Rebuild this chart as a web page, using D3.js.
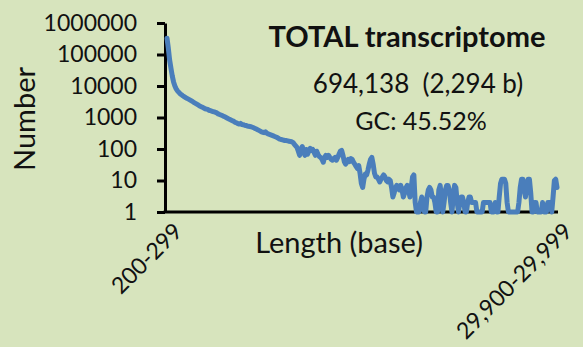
<!DOCTYPE html>
<html>
<head>
<meta charset="utf-8">
<script src="https://cdn.jsdelivr.net/npm/d3@7"></script>
<style>
  body { margin: 0; background: #d7e4bd; }
  svg { display: block; font-family: Lato, "Open Sans", sans-serif; }
</style>
</head>
<body>
<svg id="chart"></svg>
<script>
const ctx = {
  width: 583,
  height: 347,
  plotLeft: 165,
  plotRight: 557,
  plotTop: 23,
  plotBottom: 212,
  bg: "#d7e4bd",
  lineColor: "#4a7ebb"
};

// length bins of 100 bases, 200-299 ... 29,900-29,999
const binStarts = d3.range(200, 30000, 100);
const categories = binStarts.map(s => d3.format(",")(s) + "-" + d3.format(",")(s + 99));

// number of transcripts per bin
const counts = [
  330000,160000,67000,37000,21000,13500,10000,8100,7000,6300,5700,
  5300,4900,4600,4300,4100,3900,3700,
  3500,3300,3100,2900,2750,2600,2450,2300,
  2200,2100,2000,1900,1850,1800,1700,
  1650,1600,1550,1500,1450,1400,1300,1250,
  1200,1150,1100,1050,1000,950,900,860,
  820,780,750,700,680,640,620,650,600,
  590,570,560,540,530,520,510,
  490,470,450,430,410,390,370,350,
  340,330,350,320,300,290,280,270,
  260,250,240,230,215,205,200,
  195,190,185,185,180,175,173,170,
  160,140,125,112,
  85,63,97,120,85,63,97,68,85,105,90,97,78,63,85,68,58,54,47,38,
  54,63,54,63,54,47,44,50,54,44,54,68,85,90,63,40,33,38,47,40,
  50,47,38,33,28,24,30,17,8,6,11,16,15,21,33,47,54,33,17,13,
  13,11,9,11,13,15,13,10,9,11,10,6,3,4,6,7,6,5,7,5,
  3,4,6,7,5,3,6,13,15,2,1,1,1,2,3,2,1,1,3,5,
  6,5,3,3,2,1,1,5,7,3,1,2,5,7,7,5,2,1,3,7,
  6,2,1,2,3,3,2,1,1,2,3,3,2,2,2,2,1,1,1,1,
  1,2,2,2,2,2,2,1,1,1,2,1,1,3,8,11,11,11,8,2,
  1,1,1,1,1,1,1,1,2,6,11,11,5,3,7,11,11,4,1,1,
  2,2,1,1,1,1,2,1,1,1,2,2,2,1,3,10,11,6
];

const yTicks = [1, 10, 100, 1000, 10000, 100000, 1000000];
const xTickLabels = ["200-299", "29,900-29,999"];

const title = "TOTAL transcriptome";
const subtitle = "694,138  (2,294 b)";
const gcText = "GC: 45.52%";

const svg = d3.select("#chart")
  .attr("width", ctx.width)
  .attr("height", ctx.height);

svg.append("rect")
  .attr("width", ctx.width)
  .attr("height", ctx.height)
  .attr("fill", ctx.bg);

const x = d3.scalePoint()
  .domain(categories)
  .range([ctx.plotLeft + 2, ctx.plotRight]);

const y = d3.scaleLog()
  .domain([1, 1000000])
  .range([ctx.plotBottom, ctx.plotTop]);

// Y axis
const yAxis = svg.append("g")
  .attr("transform", `translate(${ctx.plotLeft},0)`)
  .call(d3.axisLeft(y).tickValues(yTicks).tickFormat(d3.format("d")).tickSize(8).tickSizeOuter(0).tickPadding(20));
yAxis.select(".domain").attr("stroke", "#000").attr("stroke-width", 3);
yAxis.selectAll(".tick line").attr("stroke", "#000").attr("stroke-width", 3);
yAxis.selectAll(".tick text")
  .attr("fill", "#111")
  .style("font-size", "23px")
  .style("font-family", "Lato, sans-serif");

// X axis (only the baseline, first and last labels)
svg.append("g")
  .attr("transform", `translate(0,${ctx.plotBottom})`)
  .call(d3.axisBottom(x).tickValues([]).tickSizeOuter(0))
  .select(".domain")
    .attr("d", `M${ctx.plotLeft - 1.5},0H${ctx.plotRight + 1}`)
    .attr("stroke", "#000")
    .attr("stroke-width", 3);

const labelCats = [categories[0], categories[categories.length - 1]];
svg.selectAll("text.xlabel")
  .data(xTickLabels)
  .enter()
  .append("text")
    .attr("class", "xlabel")
    .attr("transform", (d, i) => `translate(${x(labelCats[i]) + 11},${ctx.plotBottom + 15}) rotate(-45)`)
    .attr("text-anchor", "end")
    .attr("dy", "0.35em")
    .attr("fill", "#111")
    .style("font-size", "23px")
    .text(d => d);

// the series line
const line = d3.line()
  .x((d, i) => x(categories[i]))
  .y(d => y(d));

svg.append("path")
  .datum(counts)
  .attr("d", line)
  .attr("fill", "none")
  .attr("stroke", ctx.lineColor)
  .attr("stroke-width", 5)
  .attr("stroke-linejoin", "round")
  .attr("stroke-linecap", "round");

// axis titles
svg.append("text")
  .attr("transform", "translate(35,119) rotate(-90)")
  .attr("text-anchor", "middle")
  .attr("fill", "#111")
  .style("font-size", "29px")
  .text("Number");

svg.append("text")
  .attr("x", 339)
  .attr("y", 253)
  .attr("text-anchor", "middle")
  .attr("fill", "#111")
  .style("font-size", "29px")
  .text("Length (base)");

// annotations
svg.append("text")
  .attr("x", 407)
  .attr("y", 47)
  .attr("text-anchor", "middle")
  .attr("fill", "#111")
  .style("font-size", "29px")
  .style("font-weight", "bold")
  .text(title);

svg.append("text")
  .attr("x", 418)
  .attr("y", 93)
  .attr("text-anchor", "middle")
  .attr("fill", "#111")
  .style("font-size", "26px")
  .style("white-space", "pre")
  .text(subtitle);

svg.append("text")
  .attr("x", 421)
  .attr("y", 130)
  .attr("text-anchor", "middle")
  .attr("fill", "#111")
  .style("font-size", "25px")
  .text(gcText);
</script>
</body>
</html>
